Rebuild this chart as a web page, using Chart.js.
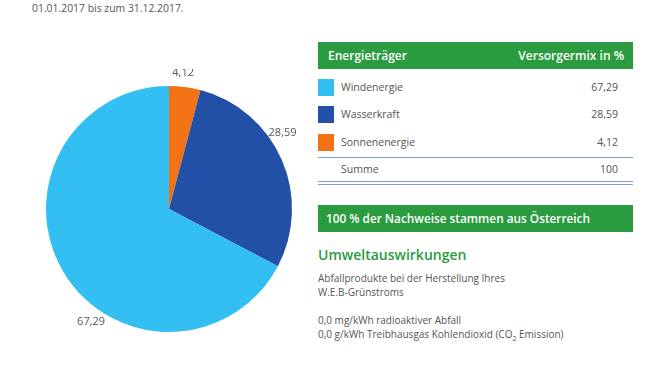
<!DOCTYPE html>
<html>
<head>
<meta charset="utf-8">
<script src="https://cdn.jsdelivr.net/npm/chart.js@4/dist/chart.umd.min.js"></script>
<style>
  body { margin: 0; width: 661px; height: 371px; overflow: hidden; background: #fff; position: relative;
         font-family: "Open Sans", sans-serif; color: #555; }
  .abs { position: absolute; white-space: nowrap; }
  #chart { position: absolute; left: 29px; top: 69px; }
  .bar { position: absolute; left: 318px; width: 315px; height: 27px; background: #2a9b3e; color: #fff; font-weight: 600; }
  .line { position: absolute; left: 318px; width: 315px; height: 1px; background: #7f9fdb; }
  .sw { position: absolute; left: 318px; width: 16px; height: 17px; }
</style>
</head>
<body>
<div class="abs" style="left:32px;top:0px;font-size:10.4px;line-height:16px;">01.01.2017 bis zum 31.12.2017.</div>

<canvas id="chart" width="280" height="280"></canvas>

<div class="bar" style="top:42px;">
  <div class="abs" style="left:10px;top:0;line-height:27px;font-size:12px;">Energieträger</div>
  <div class="abs" style="right:9px;top:0;line-height:27px;font-size:12px;">Versorgermix in %</div>
</div>
<div id="rows"></div>
<div class="line" style="top:157px;"></div>
<div class="abs" style="left:341px;top:162px;font-size:10.5px;line-height:14px;">Summe</div>
<div class="abs" id="sum" style="right:43px;top:162px;font-size:10.5px;line-height:14px;"></div>
<div class="line" style="top:181px;"></div>
<div class="line" style="top:184px;"></div>

<div class="bar" style="top:205px;">
  <div class="abs" style="left:8px;top:0;line-height:27px;font-size:11.8px;">100 % der Nachweise stammen aus Österreich</div>
</div>
<div class="abs" style="left:318px;top:245px;font-size:14px;line-height:20px;color:#2a9b3e;font-weight:600;">Umweltauswirkungen</div>
<div class="abs" style="left:318px;top:271px;font-size:10px;line-height:14px;">Abfallprodukte bei der Herstellung Ihres<br>W.E.B-Grünstroms</div>
<div class="abs" style="left:318px;top:313px;font-size:10px;line-height:14px;">0,0 mg/kWh radioaktiver Abfall<br>0,0 g/kWh Treibhausgas Kohlendioxid (CO<sub style="font-size:7px;line-height:0;">2</sub> Emission)</div>

<script>
// Anteile in Prozent (Reihenfolge im Uhrzeigersinn ab 12 Uhr)
const categories = ['Sonnenenergie', 'Wasserkraft', 'Windenergie'];
const values = [4.12, 28.59, 67.29];
const colors = ['#f47216', '#2250a6', '#33bff2'];
// Reihenfolge in der Tabelle
const tableOrder = ['Windenergie', 'Wasserkraft', 'Sonnenenergie'];

const fmt = v => Number.isInteger(v) ? String(v) : v.toFixed(2).replace('.', ',');

// Tabelle
const rows = document.getElementById('rows');
const rowTop = [79, 106, 134];
tableOrder.forEach((name, k) => {
    const i = categories.indexOf(name);
    rows.insertAdjacentHTML('beforeend',
        '<div class="sw" style="top:' + rowTop[k] + 'px;background:' + colors[i] + '"></div>' +
        '<div class="abs" style="left:341px;top:' + (rowTop[k] + 1) + 'px;font-size:10.5px;line-height:15px;">' + name + '</div>' +
        '<div class="abs" style="right:43px;top:' + (rowTop[k] + 1) + 'px;font-size:10.5px;line-height:15px;">' + fmt(values[i]) + '</div>');
});
const total = Math.round(values.reduce((a, b) => a + b, 0) * 100) / 100;
document.getElementById('sum').textContent = fmt(total);

// Beschriftung ausserhalb der Segmente
const outLabels = {
    id: 'outLabels',
    afterDatasetsDraw(chart) {
        const ctx = chart.ctx;
        ctx.save();
        ctx.font = '11px "Open Sans"';
        ctx.fillStyle = '#555';
        ctx.textAlign = 'center';
        ctx.textBaseline = 'middle';
        chart.getDatasetMeta(0).data.forEach((arc, i) => {
            const a = arc.startAngle + (arc.endAngle - arc.startAngle) * 0.4;
            const r = arc.outerRadius + 14;
            ctx.fillText(fmt(values[i]), arc.x + Math.cos(a) * r, arc.y + Math.sin(a) * r);
        });
        ctx.restore();
    }
};

const ctx = document.getElementById('chart').getContext('2d');
new Chart(ctx, {
    type: 'pie',
    data: {
        labels: categories,
        datasets: [{ data: values, backgroundColor: colors, borderWidth: 0 }]
    },
    options: {
        responsive: false,
        animation: false,
        layout: { padding: 17 },
        plugins: { legend: { display: false }, tooltip: { enabled: false } }
    },
    plugins: [outLabels]
});
</script>
</body>
</html>
